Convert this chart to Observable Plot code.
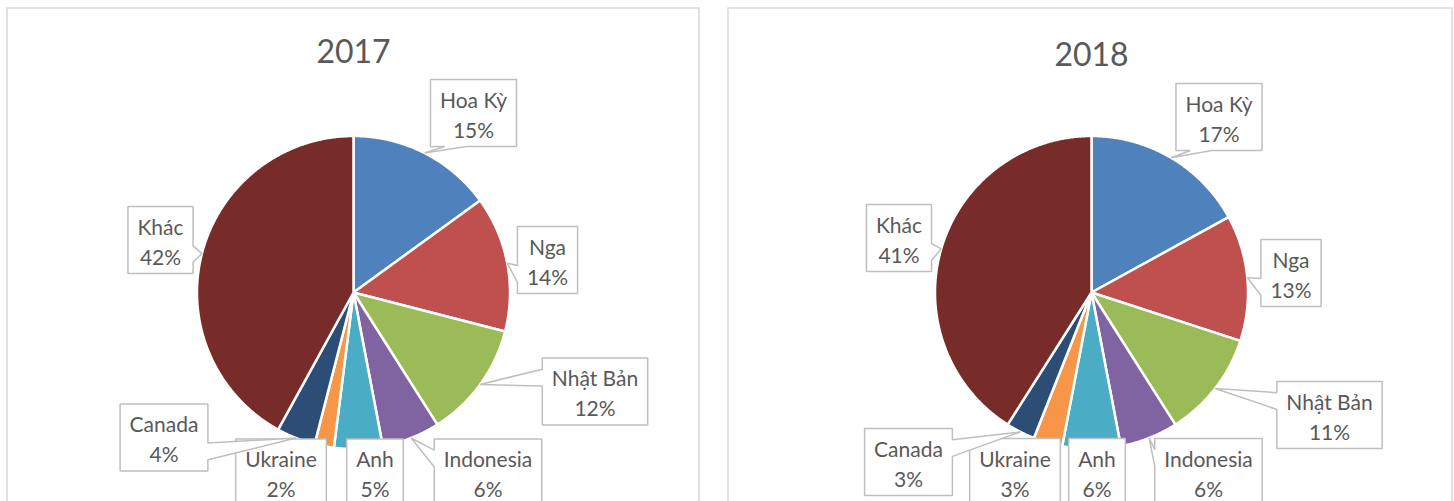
<!DOCTYPE html>
<html>
<head>
<meta charset="utf-8">
<script src="https://cdn.jsdelivr.net/npm/d3@7"></script>
<script src="https://cdn.jsdelivr.net/npm/@observablehq/plot@0.6"></script>
<style>
  html, body { margin: 0; padding: 0; background: #fff; overflow: hidden; }
  #chart svg { display: block; }
</style>
</head>
<body>
<div id="chart"></div>
<script>
// ---- data ----
const categories = ["Hoa Kỳ", "Nga", "Nhật Bản", "Indonesia", "Anh", "Ukraine", "Canada", "Khác"];
const values2017 = [15, 14, 12, 6, 5, 2, 4, 42];
const values2018 = [17, 13, 11, 6, 6, 3, 3, 41];
const years = ["2017", "2018"];

// ---- styles / layout ----
const colors = ["#4F81BD", "#C0504D", "#9BBB59", "#8064A2", "#4BACC6", "#F79646", "#2C4D75", "#772C2A"];
const W = 1454, H = 501;
const R = 156.5;
const FONT = "Lato";
const panels = [
  {x1: 7, x2: 699, y1: 8, y2: 540, cx: 353, cy: 292, titleY: 52},
  {x1: 728, x2: 1452, y1: 8, y2: 540, cx: 1091, cy: 292, titleY: 55}
];
// callout box centre offsets relative to the pie centre
const labelOffsets = [
  [[120, -179.5], [194, -32.5], [241.5, 99], [134.5, 180], [21.5, 180], [-72.5, 180], [-189.5, 145], [-193, -52.5]],
  [[127.5, -175.5], [199.5, -19.5], [238, 122.5], [117, 179.5], [5.5, 179.5], [-76.5, 179.5], [-183, 169.5], [-192.5, -54.5]]
];
const BOX_H = 67, PAD = 9.5, LABEL_SIZE = 21;

const canvas = document.createElement("canvas");
const ctx = canvas.getContext("2d");
ctx.font = `${LABEL_SIZE}px ${FONT}`;
const measure = s => ctx.measureText(s).width;

const seriesByYear = [values2017, values2018];
const slicePts = [];
const boxPts = [];
const labels = [];
const titles = [];

function calloutPoints(l, t, w, h, tx, ty) {
  const r = l + w, b = t + h, hc = l + w / 2, vc = t + h / 2;
  const dxPos = tx - hc, dyPos = ty - vc;
  const inside = tx >= l && tx <= r && ty >= t && ty <= b;
  if (inside) return [[l, t], [r, t], [r, b], [l, b], [l, t]];
  const horiz = Math.abs(dxPos * h / w) > Math.abs(dyPos);
  const x1 = l + w * (dxPos >= 0 ? 7 : 2) / 12, x2 = l + w * (dxPos >= 0 ? 10 : 5) / 12;
  const y1 = t + h * (dyPos >= 0 ? 7 : 2) / 12, y2 = t + h * (dyPos >= 0 ? 10 : 5) / 12;
  const p = [[l, t]];
  if (!horiz && dyPos < 0) p.push([x1, t], [tx, ty], [x2, t]);
  p.push([r, t]);
  if (horiz && dxPos > 0) p.push([r, y1], [tx, ty], [r, y2]);
  p.push([r, b]);
  if (!horiz && dyPos > 0) p.push([x2, b], [tx, ty], [x1, b]);
  p.push([l, b]);
  if (horiz && dxPos < 0) p.push([l, y2], [tx, ty], [l, y1]);
  p.push([l, t]);
  return p;
}

years.forEach((year, yi) => {
  const P = panels[yi];
  titles.push({year, x: P.cx, y: P.titleY});
  const data = categories.map((c, i) => ({cat: c, value: seriesByYear[yi][i], color: colors[i]}));
  const arcs = d3.pie().sort(null).value(d => d.value).startAngle(0).endAngle(2 * Math.PI)(data);
  arcs.forEach((a, i) => {
    const key = year + "-" + i;
    const pts = [[P.cx, P.cy]];
    const n = Math.max(2, Math.ceil((a.endAngle - a.startAngle) / (Math.PI / 360)));
    for (let k = 0; k <= n; k++) {
      const ang = a.startAngle + (a.endAngle - a.startAngle) * k / n;
      pts.push([P.cx + R * Math.sin(ang), P.cy - R * Math.cos(ang)]);
    }
    pts.push([P.cx, P.cy]);
    pts.forEach(([x, y]) => slicePts.push({x, y, key, color: a.data.color}));

    // callout
    const mid = (a.startAngle + a.endAngle) / 2;
    const tx = P.cx + R * Math.sin(mid), ty = P.cy - R * Math.cos(mid);
    const line1 = a.data.cat, line2 = a.data.value + "%";
    const w = Math.max(measure(line1), measure(line2)) + 2 * PAD;
    const [ox, oy] = labelOffsets[yi][i];
    const bx = P.cx + ox, by = P.cy + oy;
    calloutPoints(bx - w / 2, by - BOX_H / 2, w, BOX_H, tx, ty)
      .forEach(([x, y]) => boxPts.push({x, y, key}));
    labels.push({x: bx, y: by, text: line1 + "\n" + line2});
  });
});

const chart = Plot.plot({
  width: W,
  height: H,
  margin: 0,
  x: {domain: [0, W], range: [0, W], axis: null},
  y: {domain: [0, H], range: [0, H], axis: null},
  style: {background: "#fff", fontFamily: FONT},
  marks: [
    Plot.rect(panels, {x1: "x1", x2: "x2", y1: "y1", y2: "y2", fill: "#fff", stroke: "#D9D9D9", strokeWidth: 1.5}),
    Plot.text(titles, {x: "x", y: "y", text: "year", fontSize: 32, fill: "#595959", fontFamily: FONT}),
    Plot.line(slicePts, {x: "x", y: "y", z: "key", fill: "color", stroke: "#fff", strokeWidth: 2.5, strokeLinejoin: "round", curve: "linear"}),
    Plot.line(boxPts, {x: "x", y: "y", z: "key", fill: "#fff", stroke: "#BFBFBF", strokeWidth: 1.5, strokeLinejoin: "miter", curve: "linear"}),
    Plot.text(labels, {x: "x", y: "y", text: "text", fontSize: LABEL_SIZE, lineHeight: 30 / LABEL_SIZE, fill: "#595959", fontFamily: FONT})
  ]
});
document.getElementById("chart").appendChild(chart);
</script>
</body>
</html>
